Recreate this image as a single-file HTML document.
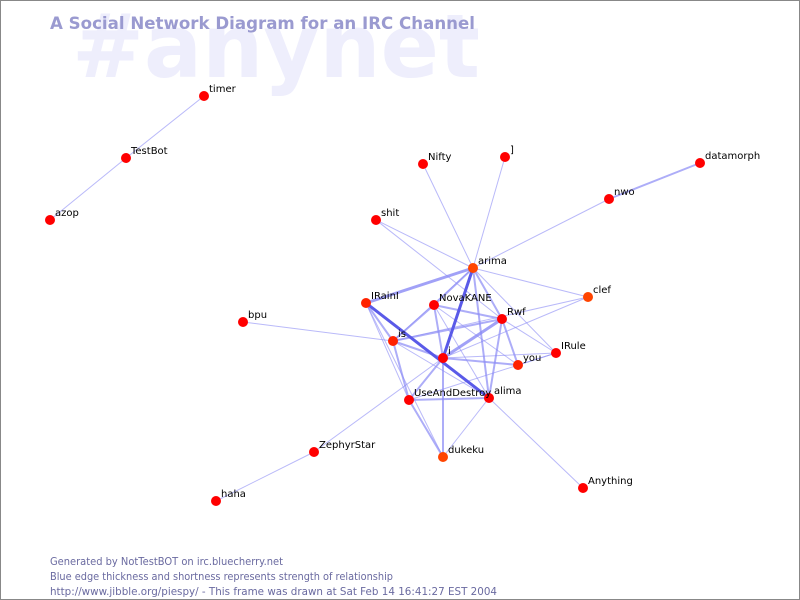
<!DOCTYPE html>
<html><head><meta charset="utf-8"><style>
html,body{margin:0;padding:0;background:#fff;}
svg{display:block;}
</style></head><body>
<svg width="800" height="600" viewBox="0 0 800 600" xmlns="http://www.w3.org/2000/svg" font-family="'DejaVu Sans','Liberation Sans',sans-serif">
<rect x="0.5" y="0.5" width="799" height="599" fill="#fff" stroke="#888"/>
<text x="72" y="77" font-size="88" font-weight="bold" fill="#eeeefc" textLength="408" lengthAdjust="spacingAndGlyphs">#anynet</text>
<text x="50" y="29" font-size="17" font-weight="bold" fill="#9a9ad0" textLength="425" lengthAdjust="spacingAndGlyphs">A Social Network Diagram for an IRC Channel</text>
<g stroke="#8a8af5" stroke-linecap="round" fill="none">
<g stroke-width="1" stroke-opacity="0.6">
<line x1="204" y1="96" x2="126" y2="158"/>
<line x1="126" y1="158" x2="50" y2="220"/>
<line x1="473" y1="268" x2="609" y2="199"/>
<line x1="473" y1="268" x2="423" y2="164"/>
<line x1="473" y1="268" x2="505" y2="157"/>
<line x1="473" y1="268" x2="376" y2="220"/>
<line x1="473" y1="268" x2="588" y2="297"/>
<line x1="473" y1="268" x2="556" y2="353"/>
<line x1="473" y1="268" x2="393" y2="341"/>
<line x1="376" y1="220" x2="502" y2="319"/>
<line x1="366" y1="303" x2="409" y2="400"/>
<line x1="366" y1="303" x2="443" y2="457"/>
<line x1="434" y1="305" x2="518" y2="365"/>
<line x1="434" y1="305" x2="489" y2="398"/>
<line x1="502" y1="319" x2="556" y2="353"/>
<line x1="243" y1="322" x2="393" y2="341"/>
<line x1="393" y1="341" x2="588" y2="297"/>
<line x1="443" y1="358" x2="556" y2="353"/>
<line x1="443" y1="358" x2="588" y2="297"/>
<line x1="443" y1="358" x2="314" y2="452"/>
<line x1="409" y1="400" x2="556" y2="353"/>
<line x1="489" y1="398" x2="583" y2="488"/>
<line x1="314" y1="452" x2="216" y2="501"/>
<line x1="489" y1="398" x2="443" y2="457"/>
<line x1="518" y1="365" x2="556" y2="353"/>
<line x1="393" y1="341" x2="489" y2="398"/>
</g>
<g stroke-width="2" stroke-opacity="0.7">
<line x1="609" y1="199" x2="700" y2="163"/>
<line x1="473" y1="268" x2="502" y2="319"/>
<line x1="473" y1="268" x2="434" y2="305"/>
<line x1="473" y1="268" x2="489" y2="398"/>
<line x1="434" y1="305" x2="393" y2="341"/>
<line x1="434" y1="305" x2="502" y2="319"/>
<line x1="434" y1="305" x2="443" y2="358"/>
<line x1="502" y1="319" x2="393" y2="341"/>
<line x1="502" y1="319" x2="518" y2="365"/>
<line x1="502" y1="319" x2="489" y2="398"/>
<line x1="393" y1="341" x2="443" y2="358"/>
<line x1="393" y1="341" x2="409" y2="400"/>
<line x1="443" y1="358" x2="518" y2="365"/>
<line x1="443" y1="358" x2="409" y2="400"/>
<line x1="443" y1="358" x2="443" y2="457"/>
<line x1="409" y1="400" x2="489" y2="398"/>
<line x1="409" y1="400" x2="443" y2="457"/>
<line x1="366" y1="303" x2="393" y2="341"/>
</g>
<g stroke-width="3" stroke-opacity="0.8">
<line x1="473" y1="268" x2="366" y2="303"/>
<line x1="502" y1="319" x2="443" y2="358"/>
</g>
<g stroke-width="3" stroke="#5a5ae8">
<line x1="366" y1="303" x2="489" y2="398"/>
<line x1="473" y1="268" x2="443" y2="358"/>
</g>
</g>
<g>
<circle cx="204" cy="96" r="5" fill="#f00"/>
<circle cx="126" cy="158" r="5" fill="#f00"/>
<circle cx="50" cy="220" r="5" fill="#f00"/>
<circle cx="423" cy="164" r="5" fill="#f00"/>
<circle cx="505" cy="157" r="5" fill="#f00"/>
<circle cx="700" cy="163" r="5" fill="#f00"/>
<circle cx="609" cy="199" r="5" fill="#f00"/>
<circle cx="376" cy="220" r="5" fill="#f00"/>
<circle cx="473" cy="268" r="5" fill="#f40"/>
<circle cx="588" cy="297" r="5" fill="#f40"/>
<circle cx="366" cy="303" r="5" fill="#f20"/>
<circle cx="434" cy="305" r="5" fill="#f00"/>
<circle cx="502" cy="319" r="5" fill="#f00"/>
<circle cx="243" cy="322" r="5" fill="#f00"/>
<circle cx="393" cy="341" r="5" fill="#f20"/>
<circle cx="443" cy="358" r="5" fill="#f00"/>
<circle cx="556" cy="353" r="5" fill="#f00"/>
<circle cx="518" cy="365" r="5" fill="#f20"/>
<circle cx="409" cy="400" r="5" fill="#f00"/>
<circle cx="489" cy="398" r="5" fill="#f00"/>
<circle cx="314" cy="452" r="5" fill="#f00"/>
<circle cx="443" cy="457" r="5" fill="#f40"/>
<circle cx="583" cy="488" r="5" fill="#f00"/>
<circle cx="216" cy="501" r="5" fill="#f00"/>
</g>
<g font-size="10" fill="#000">
<text x="209" y="92">timer</text>
<text x="131" y="154">TestBot</text>
<text x="55" y="216">azop</text>
<text x="428" y="160">Nifty</text>
<text x="510" y="153">]</text>
<text x="705" y="159">datamorph</text>
<text x="614" y="195">nwo</text>
<text x="381" y="216">shit</text>
<text x="478" y="264">arima</text>
<text x="593" y="293">clef</text>
<text x="371" y="299">IRainI</text>
<text x="439" y="301">NovaKANE</text>
<text x="507" y="315">Rwf</text>
<text x="248" y="318">bpu</text>
<text x="398" y="337">is</text>
<text x="448" y="354">i</text>
<text x="561" y="349">IRule</text>
<text x="523" y="361">you</text>
<text x="414" y="396">UseAndDestroy</text>
<text x="494" y="394">alima</text>
<text x="319" y="448">ZephyrStar</text>
<text x="448" y="453">dukeku</text>
<text x="588" y="484">Anything</text>
<text x="221" y="497">haha</text>
</g>
<g font-size="11" fill="#6a6aa0">
<text x="50" y="565" textLength="233" lengthAdjust="spacingAndGlyphs">Generated by NotTestBOT on irc.bluecherry.net</text>
<text x="50" y="580" textLength="343" lengthAdjust="spacingAndGlyphs">Blue edge thickness and shortness represents strength of relationship</text>
<text x="50" y="595" textLength="447" lengthAdjust="spacingAndGlyphs">http://www.jibble.org/piespy/ - This frame was drawn at Sat Feb 14 16:41:27 EST 2004</text>
</g>
</svg>
</body></html>
